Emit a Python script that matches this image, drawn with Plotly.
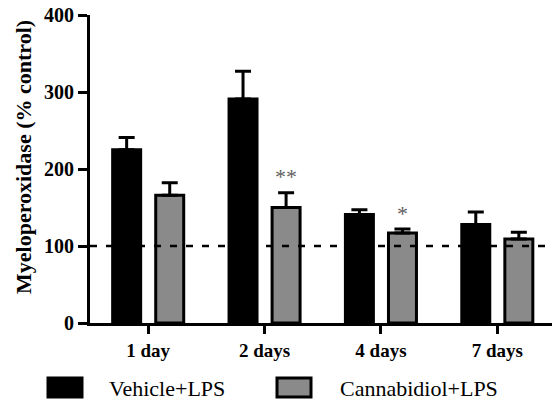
import plotly.graph_objects as go

categories = ["1 day", "2 days", "4 days", "7 days"]
vehicle = [225, 291, 141, 128]
vehicle_err = [16, 36, 6, 16]
cbd = [166, 150, 117, 109]
cbd_err = [16, 19, 5, 9]
sig_labels = ["", "**", "*", ""]
y_ticks = [0, 100, 200, 300, 400]
baseline = 100

serif = "Liberation Serif"
W, H = 552, 401
L, T, B = 90, 15, 78
PW, PH = W - L, H - T - B

fig = go.Figure()
fig.add_trace(go.Bar(
    x=categories, y=vehicle, name="Vehicle+LPS",
    marker=dict(color="black", line=dict(color="black", width=3)),
    error_y=dict(type="data", array=vehicle_err, arrayminus=[0]*4, symmetric=False,
                 color="black", thickness=3, width=8),
))
fig.add_trace(go.Bar(
    x=categories, y=cbd, name="Cannabidiol+LPS",
    marker=dict(color="#8a8a8a", line=dict(color="black", width=3)),
    error_y=dict(type="data", array=cbd_err, arrayminus=[0]*4, symmetric=False,
                 color="black", thickness=3, width=8),
))

# dashed control line
fig.add_shape(type="line", xref="paper", yref="y", x0=0, x1=1, y0=baseline, y1=baseline,
              line=dict(color="black", width=2.5, dash="7px,9px"), layer="above")

# significance markers
for c, v, e, s in zip(categories, cbd, cbd_err, sig_labels):
    if s:
        fig.add_annotation(x=c, y=v + e, text=s, showarrow=False, xshift=21.5, yshift=16,
                           font=dict(family=serif, size=22, color="#606060"))

# y-axis title (placed as rotated annotation)
fig.add_annotation(xref="paper", yref="paper", x=(23 - L) / PW, y=(T + PH - 157) / PH,
                   text="Myeloperoxidase (% control)", textangle=-90, showarrow=False,
                   xanchor="center", yanchor="middle",
                   font=dict(family=serif, size=22, color="black", weight="bold"))

# custom legend
legend_items = [("Vehicle+LPS", "black"), ("Cannabidiol+LPS", "#8a8a8a")]
box_x = [48, 277]
text_x = [107, 338]
for (name, col), bx, tx in zip(legend_items, box_x, text_x):
    fig.add_shape(type="rect", xref="paper", yref="paper",
                  x0=(bx - L) / PW, x1=(bx + 34 - L) / PW,
                  y0=-(397 - T - PH) / PH, y1=-(378 - T - PH) / PH,
                  fillcolor=col, line=dict(color="black", width=3))
    fig.add_annotation(xref="paper", yref="paper", x=(tx - L) / PW, y=-(388 - T - PH) / PH,
                       xanchor="left", yanchor="middle", text=name, showarrow=False,
                       font=dict(family=serif, size=22, color="black"))

fig.update_layout(
    width=W, height=H,
    margin=dict(l=L, r=0, t=T, b=B),
    plot_bgcolor="white", paper_bgcolor="white",
    barmode="group", bargap=0.26, bargroupgap=0.35,
    showlegend=False,
    font=dict(family=serif, color="black"),
)
fig.update_xaxes(
    range=[-0.5, 3.47], showline=True, linecolor="black", linewidth=3,
    ticks="outside", ticklen=8, tickwidth=2.5, tickcolor="black",
    tickfont=dict(family=serif, size=19, color="black", weight="bold"),
    showgrid=False, zeroline=False,
)
fig.update_yaxes(
    range=[0, 400], tickvals=y_ticks, showline=True, linecolor="black", linewidth=3,
    ticks="outside", ticklen=9, tickwidth=2.5, tickcolor="black",
    tickfont=dict(family=serif, size=20, color="black", weight="bold"),
    showgrid=False, zeroline=False,
)

fig.write_html("out.html")
